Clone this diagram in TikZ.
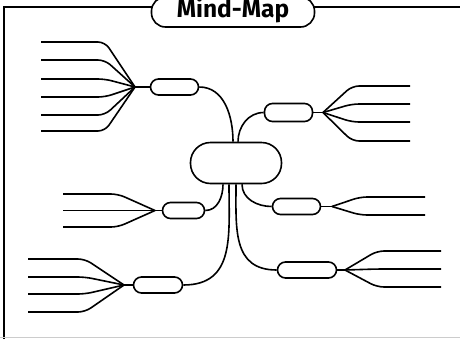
\documentclass[tikz,border=0pt]{standalone}
\usepackage{fontspec}
\setsansfont{Fira Sans}
\usepackage{tikz}
\usetikzlibrary{calc}

\begin{document}
\begin{tikzpicture}[x=1pt, y=-1pt, line width=1.6pt,
    pill/.style={draw, fill=white, rounded corners=8pt, minimum width=48pt, minimum height=16pt, inner sep=0pt},
    hub/.style={draw, fill=white, rounded corners=20pt, minimum width=91pt, minimum height=41pt, inner sep=0pt},
    twig/.style={rounded corners=7pt}]
\useasboundingbox (0,0) rectangle (460,338);

% frame and title
\draw (4,345) -- (4,7) -- (465,7);
\draw[gray!40] (0,337.5) -- (465,337.5);
\node(title)[draw, fill=white, rounded corners=14pt, minimum width=163pt, minimum height=30pt, inner sep=0pt,
    text height=17pt, text depth=6pt,
    font=\sffamily\bfseries\fontsize{24.5}{24.5}\selectfont] at (233,12) {Mind-Map};

% centre and branches
\node(hub)[hub] at (236,163) {};
\node(b1)[pill] at (174.5,87) {};
\node(b2)[pill, minimum height=18pt] at (288.5,112.5) {};
\node(b3)[pill, minimum width=42pt] at (183.5,210.5) {};
\node(b4)[pill] at (296.5,206.5) {};
\node(b5)[pill, minimum width=49pt] at (158,285) {};
\node(b6)[pill, minimum width=59pt] at (307,270) {};

\draw ([xshift=-3pt]hub.north) to[out=90, in=0] (b1.east);
\draw ([xshift=2pt]hub.north) to[out=90, in=180] (b2.west);
\draw ([xshift=-13pt]hub.south) to[out=-90, in=0] (b3.east);
\draw ([xshift=6pt]hub.south) to[out=-90, in=180] (b4.west);
\draw ([xshift=-7pt]hub.south) to[out=-90, in=0, looseness=1.2] (b5.east);
\draw (hub.south) to[out=-90, in=180, looseness=1.2] (b6.west);

% leaves of b1
\coordinate (f1) at (135,87);
\draw (b1.west) -- (f1);
\draw[twig] (f1) -- (105,42) -- (41,42);
\draw[twig] (f1) -- (105,60) -- (41,60);
\draw[twig] (f1) -- (105,79) -- (41,79);
\draw[twig] (f1) -- (105,97) -- (41,97);
\draw[twig] (f1) -- (105,115) -- (41,115);
\draw[twig] (f1) -- (105,131) -- (41,131);

% leaves of b2
\coordinate (f2) at (323,112.5);
\draw (b2.east) -- (f2);
\draw[twig] (f2) -- (352,86) -- (410,86);
\draw[twig] (f2) -- (352,104) -- (410,104);
\draw[twig] (f2) -- (352,122) -- (410,122);
\draw[twig] (f2) -- (352,141) -- (410,141);

% leaves of b3
\coordinate (f3) at (155,210.5);
\draw (b3.west) -- (f3);
\draw[twig] (f3) -- (118,194) -- (63,194);
\draw (f3) -- (63,210.5);
\draw[twig] (f3) -- (118,227) -- (63,227);

% leaves of b4
\coordinate (f4) at (332,206.5);
\draw (b4.east) -- (f4);
\draw[twig] (f4) -- (360,197) -- (425,197);
\draw[twig] (f4) -- (360,215) -- (425,215);

% leaves of b5
\coordinate (f5) at (124,285);
\draw (b5.west) -- (f5);
\draw[twig] (f5) -- (85,259) -- (28,259);
\draw[twig] (f5) -- (85,277) -- (28,277);
\draw[twig] (f5) -- (85,294) -- (28,294);
\draw[twig] (f5) -- (85,312) -- (28,312);

% leaves of b6
\coordinate (f6) at (345,270);
\draw (b6.east) -- (f6);
\draw[twig] (f6) -- (377,251) -- (441,251);
\draw[twig] (f6) -- (377,269) -- (441,269);
\draw[twig] (f6) -- (377,287) -- (441,287);
\end{tikzpicture}
\end{document}
